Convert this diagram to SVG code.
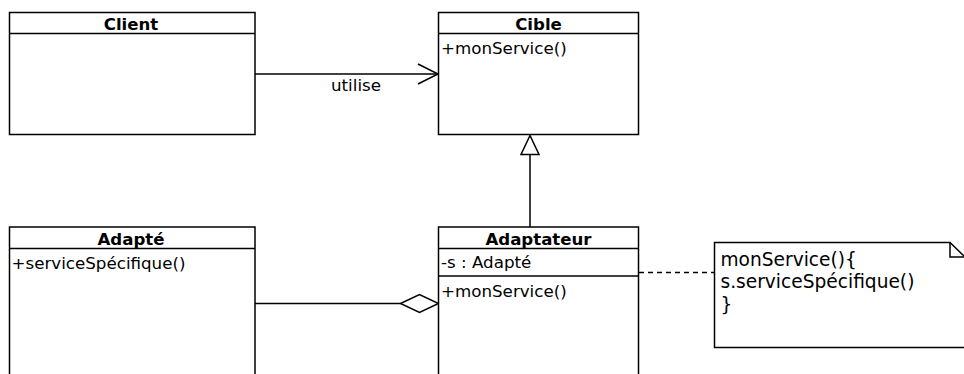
<svg xmlns="http://www.w3.org/2000/svg" width="964" height="374" viewBox="0 0 964 374">
<style>
  .box { fill: #fff; stroke: #000; stroke-width: 1.5; }
  .sep { stroke: #000; stroke-width: 1.5; fill: none; }
  .title { font-family: "DejaVu Sans", sans-serif; font-weight: bold; font-size: 16.6px; text-anchor: middle; fill: #000; }
  .txt { font-family: "DejaVu Sans", sans-serif; font-size: 16.7px; fill: #000; }
  .note { font-family: "DejaVu Sans", sans-serif; font-size: 18.6px; fill: #000; }
  .line { stroke: #000; stroke-width: 1.5; fill: none; }
  .head { stroke: #000; stroke-width: 1.5; fill: #fff; }
  .dash { stroke: #000; stroke-width: 1.5; fill: none; stroke-dasharray: 5 4; }
</style>
<rect width="964" height="374" fill="#fff"/>
<g id="connectors">
  <line class="line" x1="255" y1="74" x2="438" y2="74"/>
  <polyline class="line" points="418,64 438,74 418,84"/>
  <text class="txt" x="331" y="90.5">utilise</text>
  <line class="line" x1="530" y1="154.5" x2="530" y2="227"/>
  <polygon class="head" points="530,135.5 521,154.5 539,154.5"/>
  <line class="line" x1="255" y1="303.5" x2="400.5" y2="303.5"/>
  <polygon class="head" points="400.5,303.5 419.5,294.5 438.5,303.5 419.5,312.5"/>
  <line class="dash" x1="639" y1="272.5" x2="714" y2="272.5"/>
</g>
<g id="client">
  <rect class="box" x="9.5" y="12.5" width="245.5" height="122"/>
  <line class="sep" x1="9.5" y1="33.5" x2="255" y2="33.5"/>
  <text class="title" x="131" y="29.5">Client</text>
</g>
<g id="cible">
  <rect class="box" x="438.5" y="12.5" width="200" height="122"/>
  <line class="sep" x1="438.5" y1="33.5" x2="638.5" y2="33.5"/>
  <text class="title" x="538.5" y="29.5">Cible</text>
  <text class="txt" x="441" y="54">+monService()</text>
</g>
<g id="adapte">
  <rect class="box" x="9.5" y="227" width="245.5" height="170"/>
  <line class="sep" x1="9.5" y1="248.5" x2="255" y2="248.5"/>
  <text class="title" x="131" y="244.5">Adapté</text>
  <text class="txt" x="11.5" y="268.5">+serviceSpécifique()</text>
</g>
<g id="adaptateur">
  <rect class="box" x="438.5" y="227" width="200" height="170"/>
  <line class="sep" x1="438.5" y1="248.5" x2="638.5" y2="248.5"/>
  <line class="sep" x1="438.5" y1="276" x2="638.5" y2="276"/>
  <text class="title" x="538.5" y="244.5">Adaptateur</text>
  <text class="txt" x="441" y="268">-s : Adapté</text>
  <text class="txt" x="441" y="296.5">+monService()</text>
</g>
<g id="note">
  <path class="box" d="M714.5,242.5 H950 L965,257 V347.5 H714.5 Z"/>
  <path class="sep" d="M950,242.5 V257 H965"/>
  <text class="note" x="720.5" y="265.5">monService(){</text>
  <text class="note" x="720.5" y="288">s.serviceSpécifique()</text>
  <text class="note" x="720.5" y="310.5">}</text>
</g>
</svg>
